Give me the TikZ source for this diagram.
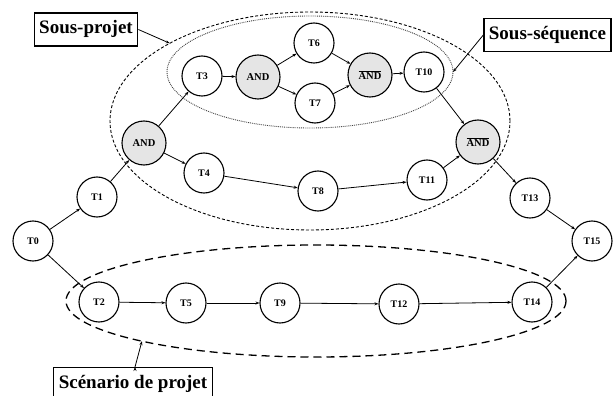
\documentclass[tikz,border=0pt]{standalone}
\usepackage{fontspec}
\setmainfont{Liberation Serif}
\usetikzlibrary{arrows.meta,shapes.geometric}
\begin{document}
\begin{tikzpicture}[x=1pt,y=-1pt,
  task/.style={circle,draw,line width=1.1pt,minimum size=40pt,inner sep=0pt,font=\fontsize{10}{12}\selectfont\bfseries},
  gate/.style={circle,draw,line width=1.1pt,minimum size=44pt,inner sep=0pt,fill=black!10,font=\fontsize{10.5}{12}\selectfont\bfseries},
  link/.style={line width=0.8pt,-{Stealth[length=4pt,width=3pt]}},
  tag/.style={draw,line width=1.2pt,inner xsep=5pt,inner ysep=8pt,text height=13pt,text depth=4pt,font=\fontsize{19}{22}\selectfont\bfseries},
  zone/.style={ellipse,inner sep=0pt,outer sep=0pt}]
\useasboundingbox (0,0) rectangle (614,396);
% zones
\node[zone,draw,densely dashed,line width=0.9pt,minimum width=400pt,minimum height=218pt] (sp) at (310,121) {};
\node[zone,draw,densely dotted,line width=0.9pt,black!75,minimum width=286pt,minimum height=112pt] (ss) at (310,72) {};
\node[zone,draw,dash pattern=on 8pt off 5pt,line width=1.3pt,minimum width=500pt,minimum height=112pt] (sc) at (316,301) {};
% tasks
\node[task] (t0) at (33,241) {T0};
\node[task] (t1) at (97,197) {T1};
\node[gate] (a1) at (144,143) {AND};
\node[task] (t3) at (202,76) {T3};
\node[gate] (a2) at (258,77) {AND};
\node[task] (t6) at (314,43) {T6};
\node[task] (t7) at (315,103) {T7};
\node[gate] (b1) at (370,75) {$\overline{\mbox{AND}}$};
\node[task] (t10) at (424,72) {T10};
\node[task] (t4) at (204,173) {T4};
\node[task] (t8) at (318,191) {T8};
\node[task] (t11) at (427,180) {T11};
\node[gate] (b2) at (478,142) {$\overline{\mbox{AND}}$};
\node[task] (t13) at (530,198) {T13};
\node[task] (t15) at (592,241) {T15};
\node[task] (t2) at (99,302) {T2};
\node[task] (t5) at (186,303) {T5};
\node[task] (t9) at (280,303) {T9};
\node[task] (t12) at (399,304) {T12};
\node[task] (t14) at (532,302) {T14};
% links
\draw[link] (t0) -- (t1);
\draw[link] (t0) -- (t2);
\draw[link] (t1) -- (a1);
\draw[link] (a1) -- (t3);
\draw[link] (a1) -- (t4);
\draw[link] (t3) -- (a2);
\draw[link] (a2) -- (t6);
\draw[link] (a2) -- (t7);
\draw[link] (t6) -- (b1);
\draw[link] (t7) -- (b1);
\draw[link] (b1) -- (t10);
\draw[link] (t10) -- (b2);
\draw[link] (t4) -- (t8);
\draw[link] (t8) -- (t11);
\draw[link] (t11) -- (b2);
\draw[link] (b2) -- (t13);
\draw[link] (t13) -- (t15);
\draw[link] (t2) -- (t5);
\draw[link] (t5) -- (t9);
\draw[link] (t9) -- (t12);
\draw[link] (t12) -- (t14);
\draw[link] (t14) -- (t15);
% tags
\node[tag] (lsp) at (86,29.5) {Sous-projet};
\node[tag] (lss) at (547.5,35) {Sous-séquence};
\node[tag,anchor=north] (lsc) at (133,367) {Scénario de projet};
\draw[link] (lsp.east) -- (sp.151);
\draw[link] (lss.west) -- (ss.east);
\draw[link] (lsc.north) ++(2,0) coordinate (lscn);
\draw[link] (lscn) -- (sc.193);
\end{tikzpicture}
\end{document}
